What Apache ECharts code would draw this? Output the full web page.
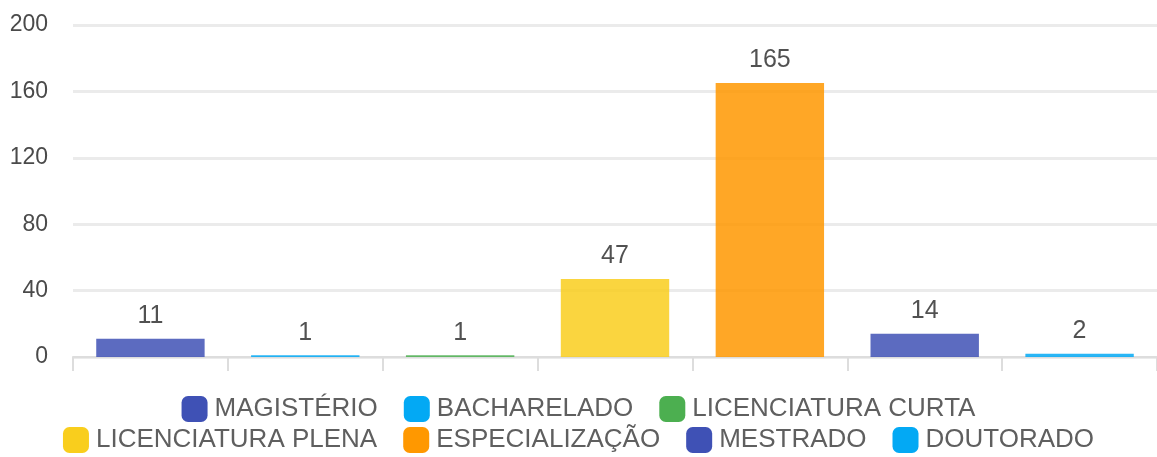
<!DOCTYPE html>
<html>
<head>
<meta charset="utf-8">
<script src="https://cdn.jsdelivr.net/npm/echarts@6/dist/echarts.min.js"></script>
<style>html,body{margin:0;padding:0;background:#fff;}#c{width:1157px;height:457px;}</style>
</head>
<body>
<div id="c"></div>
<script>
const categories = ['MAGISTÉRIO','BACHARELADO','LICENCIATURA CURTA','LICENCIATURA PLENA','ESPECIALIZAÇÃO','MESTRADO','DOUTORADO'];
const values = [11, 1, 1, 47, 165, 14, 2];
const colors = ['#3F51B5','#03A9F4','#4CAF50','#F9CE1D','#FF9800','#3F51B5','#03A9F4'];
const yTicks = [0, 40, 80, 120, 160, 200];

const FONT = '"Liberation Sans", Arial, sans-serif';
const series = categories.map((name, i) => ({
  name: name,
  type: 'bar',
  stack: 'all',
  barWidth: '70%',
  data: values.map((v, j) => (j === i ? v : null)),
  itemStyle: { color: colors[i], opacity: 0.85 },
  label: {
    show: true, position: 'top', distance: 10,
    color: '#333', fontSize: 25, fontFamily: FONT
  }
}));

const legendCommon = {
  orient: 'horizontal', left: 'center', padding: 0, itemWidth: 26, itemHeight: 26, itemGap: 26,
  icon: 'roundRect',
  itemStyle: { opacity: 1 },
  textStyle: { color: '#5f5f5f', fontSize: 26, fontFamily: FONT, padding: [0,0,0,2] }
};

const chart = echarts.init(document.getElementById('c'), null, { renderer: 'canvas' });
chart.setOption({
  animation: false,
  color: colors,
  grid: { left: 73, right: 0, top: 25, bottom: 100, containLabel: false },
  legend: [
    Object.assign({}, legendCommon, { top: 396, data: categories.slice(0, 3) }),
    Object.assign({}, legendCommon, { top: 427, data: categories.slice(3) })
  ],
  xAxis: {
    type: 'category',
    data: categories,
    axisLabel: { show: false },
    axisLine: { lineStyle: { color: '#ddd', width: 2 } },
    axisTick: { show: true, interval: 0, length: 14, lineStyle: { color: '#ddd', width: 2 } }
  },
  yAxis: {
    type: 'value',
    min: yTicks[0], max: yTicks[yTicks.length - 1], interval: 40,
    axisLine: { show: false }, axisTick: { show: false },
    axisLabel: { color: '#4a4a4a', fontSize: 23, fontFamily: FONT, margin: 25 },
    splitLine: { lineStyle: { color: '#ebebeb', width: 3 } }
  },
  series: series
});
</script>
</body>
</html>
